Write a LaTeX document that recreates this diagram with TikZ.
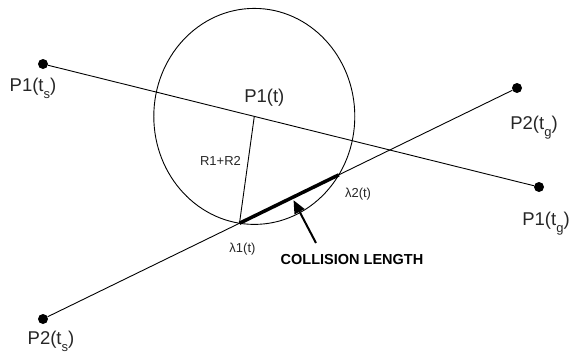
\documentclass[tikz,border=0pt]{standalone}
\usepackage{fontspec}
\setmainfont{Liberation Sans}
\usepackage{tikz}
\usetikzlibrary{arrows.meta,positioning,calc,intersections}
\newcommand{\lsub}[1]{\raisebox{-7pt}{\fontsize{13}{13}\selectfont #1}}
\tikzset{
  % End points
  dot/.style={circle,fill=black,inner sep=0pt,minimum size=10pt},
  % Labels
  lbl/.style={inner sep=1pt,text=black!85,font=\fontsize{18.5}{20}\selectfont},
  sml/.style={inner sep=1pt,text=black!85,font=\fontsize{13}{14}\selectfont},
  tagtxt/.style={inner sep=1pt,font=\fontsize{14.5}{16}\selectfont\bfseries},
  % Lines
  trk/.style={line width=0.9pt},
  hit/.style={line width=3.5pt},
  arr/.style={-{Triangle[length=13pt,width=11pt]},line width=2pt}
}
\begin{document}
\begin{tikzpicture}[x=1pt,y=-1pt]
  \useasboundingbox (0,0) rectangle (572,356);

  %------ END POINTS ------
  \node[dot] (P1s) at (43,64)  {};
  \node[dot] (P1g) at (539,187) {};
  \node[dot] (P2s) at (43,319) {};
  \node[dot] (P2g) at (517,88) {};
  \coordinate (P1t) at ($(P1s)!0.426!(P1g)$);

  %------ TRACKS + RANGE ------
  \draw[trk] (P1s)--(P1g);
  \draw[trk,name path=track2] (P2s)--(P2g);
  \draw[trk,name path=ring] (P1t) ellipse [x radius=100.5,y radius=108];
  \path[name intersections={of=ring and track2,sort by=track2,by={L1,L2}}];
  \draw[trk] (P1t)--(L1);
  \draw[hit] (L1)--(L2);

  % Collision arrow
  \coordinate (tail) at (316,243);
  \coordinate (aim) at ($(L1)!0.53!(L2)$);
  \draw[arr,shorten >=3pt] (tail)--(aim);

  %------ LABELS ------
  \node[lbl,below=8pt of P1s,xshift=-10pt] (labP1s) {P1(t\lsub{s})};
  \node[lbl,below=19pt of P1g,xshift=7pt]  (labP1g) {P1(t\lsub{g})};
  \node[lbl,below=6pt of P2s,xshift=8pt]   (labP2s) {P2(t\lsub{s})};
  \node[lbl,below=22pt of P2g,xshift=17pt] (labP2g) {P2(t\lsub{g})};
  \node[lbl,above=9pt of P1t,xshift=10pt]  (labP1t) {P1(t)};
  \node[sml,left=6pt] (labR) at ($(P1t)!0.42!(L1)$) {R1+R2};
  \node[sml,below=19pt of L1,xshift=3pt] (labL1) {λ1(t)};
  \node[sml,below right=12pt and 5pt of L2] (labL2) {λ2(t)};
  \node[tagtxt,below=10pt of tail,xshift=36pt] (labCL) {COLLISION LENGTH};
\end{tikzpicture}
\end{document}
